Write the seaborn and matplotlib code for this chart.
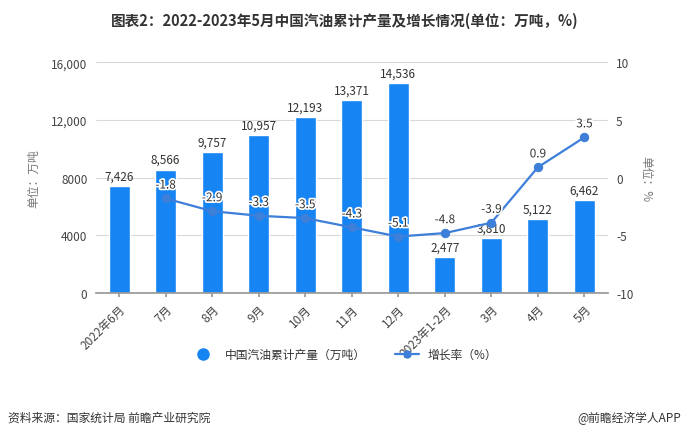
import numpy as np
import pandas as pd
import matplotlib.pyplot as plt
import matplotlib.patheffects as pe
import seaborn as sns
from matplotlib.lines import Line2D

# --- Data ---
months = ["2022年6月", "7月", "8月", "9月", "10月", "11月", "12月",
          "2023年1-2月", "3月", "4月", "5月"]
output = [7426, 8566, 9757, 10957, 12193, 13371, 14536, 2477, 3810, 5122, 6462]
growth = [None, -1.8, -2.9, -3.3, -3.5, -4.3, -5.1, -4.8, -3.9, 0.9, 3.5]

bar_color = "#1684F2"
line_color = "#3D7FD9"

sns.set_theme(style="white")
plt.rcParams["font.family"] = ["Noto Sans CJK SC", "DejaVu Sans"]

df = pd.DataFrame({"month": months, "output": output, "growth": growth})
df["x"] = np.arange(len(df))

fig = plt.figure(figsize=(6.89, 4.39), dpi=100)
ax = fig.add_axes([0.139, 0.330, 0.743, 0.526])

# --- Bars ---
sns.barplot(data=df, x="month", y="output", color=bar_color, width=0.45,
            saturation=1, ax=ax)
ax.set_ylim(0, 16000)
ax.set_yticks([0, 4000, 8000, 12000, 16000])
ax.set_yticklabels(["0", "4000", "8000", "12,000", "16,000"])
ax.yaxis.grid(True, color="#d9d9d9", linewidth=0.8)
ax.set_axisbelow(True)
for s in ["top", "right", "left"]:
    ax.spines[s].set_visible(False)
ax.spines["bottom"].set_color("#999999")
ax.tick_params(axis="y", colors="#444444", labelsize=8.5, length=0, pad=6)
ax.tick_params(axis="x", colors="#444444", labelsize=8.5, length=3,
               bottom=True, color="#999999")
plt.setp(ax.get_xticklabels(), rotation=45, ha="right", rotation_mode="anchor")
ax.set_xlabel("")
ax.set_ylabel("单位：万吨", color="#777777", fontsize=8.5, labelpad=8)
ax.set_xlim(-0.5, len(months) - 0.5)

for xi, v in zip(df["x"], df["output"]):
    ax.text(xi, v + 250, f"{v:,}", ha="center", va="bottom", fontsize=8.5,
            color="#333333")

# --- Growth line ---
ax2 = ax.twinx()
gdf = df.dropna(subset=["growth"])
sns.lineplot(x=gdf["x"].values, y=gdf["growth"].astype(float).values, ax=ax2,
             color=line_color, linewidth=1.6, marker="o", markersize=6,
             markeredgecolor=line_color)
ax2.set_ylim(-10, 10)
ax2.set_yticks([-10, -5, 0, 5, 10])
ax2.set_yticklabels(["-10", "-5", "0", "5", "10"])
for s in ["top", "right", "left", "bottom"]:
    ax2.spines[s].set_visible(False)
ax2.tick_params(axis="y", colors="#444444", labelsize=8.5, length=0, pad=6)
ax2.set_ylabel("单位：%", color="#777777", fontsize=8.5, rotation=270,
               labelpad=14)
ax2.set_xlim(-0.5, len(months) - 0.5)

for xi, g in zip(gdf["x"], gdf["growth"]):
    t = ax2.text(xi, g + 0.6, f"{g}", ha="center", va="bottom", fontsize=8.5,
                 color="#333333")
    t.set_path_effects([pe.withStroke(linewidth=2.5, foreground="white")])

# --- Title, legend, footer ---
fig.text(0.5, 0.952, "图表2：2022-2023年5月中国汽油累计产量及增长情况(单位：万吨，%)",
         ha="center", va="center", fontsize=10.5, fontweight="bold",
         color="#333333")

handles = [
    Line2D([], [], linestyle="none", marker="o", markersize=8,
           markerfacecolor=bar_color, markeredgecolor=bar_color),
    Line2D([], [], color=line_color, linewidth=1.6, marker="o", markersize=5),
]
fig.legend(handles, ["中国汽油累计产量（万吨）", "增长率（%）"], loc="center",
           bbox_to_anchor=(0.5, 0.19), ncol=2, frameon=False, fontsize=8.5,
           handlelength=2.0, columnspacing=2.5, labelcolor="#333333")

fig.text(0.012, 0.047, "资料来源：国家统计局 前瞻产业研究院", ha="left",
         va="center", fontsize=8.5, color="#333333")
fig.text(0.988, 0.047, "@前瞻经济学人APP", ha="right", va="center",
         fontsize=8.5, color="#333333")

fig.savefig("out.png", dpi=100)
